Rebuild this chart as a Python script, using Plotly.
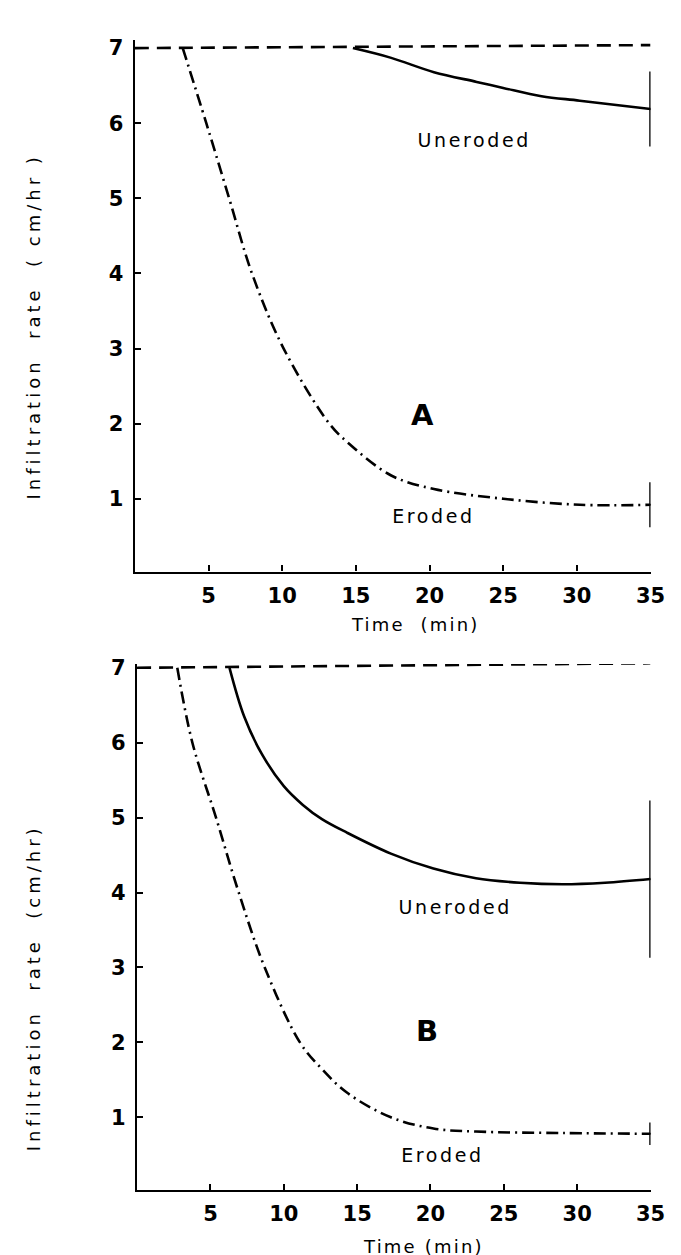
import plotly.graph_objects as go
from plotly.subplots import make_subplots

# ---------------- data ----------------
# Panel A
a_rain_x = [0, 35]
a_rain_y = [7.0, 7.04]
a_uner_x = [14.8, 17.4, 20.3, 23.2, 25.0, 27.6, 30.2, 35.0]
a_uner_y = [7.0, 6.87, 6.68, 6.55, 6.47, 6.36, 6.30, 6.19]
a_ero_x = [3.25, 4.85, 6.4, 7.95, 10.1, 13.2, 14.5, 17.4, 20.3, 25.0, 30.2, 35.0]
a_ero_y = [7.0, 6.0, 5.0, 4.0, 3.0, 2.0, 1.74, 1.31, 1.13, 1.0, 0.92, 0.92]
a_uner_err = 0.5
a_ero_err = 0.3

# Panel B
b_rain_x = [0, 35]
b_rain_y = [7.0, 7.06]
b_uner_x = [6.3, 7.3, 8.5, 10.0, 11.3, 12.6, 14.3, 17.3, 20.2, 23.1, 26.1, 29.0, 31.9, 35.0]
b_uner_y = [7.0, 6.35, 5.85, 5.42, 5.17, 4.98, 4.8, 4.52, 4.32, 4.19, 4.13, 4.11, 4.13, 4.18]
b_ero_x = [2.74, 3.77, 5.38, 6.93, 8.7, 11.1, 12.57, 14.3, 17.3, 20.2, 23.1, 29.0, 35.0]
b_ero_y = [7.0, 6.0, 5.0, 4.0, 3.0, 2.0, 1.65, 1.33, 1.0, 0.85, 0.81, 0.79, 0.78]
b_uner_err = 1.05
b_ero_err = 0.15

x_ticks = [5, 10, 15, 20, 25, 30, 35]
y_ticks = [1, 2, 3, 4, 5, 6, 7]

# ---------------- figure ----------------
W, H = 681, 1255
fig = make_subplots(rows=2, cols=1)

DASHDOT = "12px,5px,2px,5px"
DASHED = "14px,8px"
LW = 2.6
INK = "black"


def add_panel(row, rain_x, rain_y, ux, uy, ex, ey, uerr, eerr):
    fig.add_trace(go.Scatter(x=rain_x, y=rain_y, mode="lines",
                             line=dict(color=INK, width=LW, dash=DASHED),
                             showlegend=False), row=row, col=1)
    fig.add_trace(go.Scatter(x=ux, y=uy, mode="lines", line_shape="spline",
                             line=dict(color=INK, width=LW),
                             showlegend=False), row=row, col=1)
    fig.add_trace(go.Scatter(x=ex, y=ey, mode="lines", line_shape="spline",
                             line=dict(color=INK, width=LW, dash=DASHDOT),
                             showlegend=False), row=row, col=1)
    fig.add_trace(go.Scatter(x=[ux[-1], ex[-1]], y=[uy[-1], ey[-1]], mode="markers",
                             marker=dict(size=1, color=INK),
                             error_y=dict(type="data", array=[uerr, eerr], width=0,
                                          thickness=2.6, color=INK),
                             showlegend=False, cliponaxis=False), row=row, col=1)


add_panel(1, a_rain_x, a_rain_y, a_uner_x, a_uner_y, a_ero_x, a_ero_y, a_uner_err, a_ero_err)
add_panel(2, b_rain_x, b_rain_y, b_uner_x, b_uner_y, b_ero_x, b_ero_y, b_uner_err, b_ero_err)

FONT = "DejaVu Sans"
tickfont = dict(family=FONT, size=21, color=INK, weight="bold")

axis_common = dict(showgrid=False, zeroline=False, showline=True, linecolor=INK,
                   linewidth=2.4, ticks="inside", ticklen=6, tickwidth=2.4, tickcolor=INK,
                   tickfont=tickfont)

fig.update_xaxes(range=[0, 35], tickvals=x_ticks, ticklabelstandoff=4, **axis_common)
fig.update_yaxes(tickvals=y_ticks, ticklabelstandoff=5, **axis_common)

fig.update_layout(
    width=W, height=H,
    margin=dict(l=0, r=0, t=0, b=0),
    paper_bgcolor="white", plot_bgcolor="white",
    showlegend=False,
    xaxis=dict(domain=[129.7 / W, 657 / W], anchor="y"),
    yaxis=dict(domain=[1 - 559.2 / H, 1 - 24.0 / H], range=[0.03, 7.11]),
    xaxis2=dict(domain=[132 / W, 657 / W], anchor="y2"),
    yaxis2=dict(domain=[1 - 1181.5 / H, 1 - 652.2 / H], range=[0.03, 7.05]),
)

lab = dict(family=FONT, size=19, color=INK)
big = dict(family=FONT, size=29, color=INK, weight="bold")
rfont = dict(family=FONT, size=19, color=INK)
ann = [
    ("x", "y", 23.05, 5.77, "Uneroded", lab),
    ("x", "y", 20.26, 0.77, "Eroded", lab),
    ("x", "y", 19.55, 2.12, "A", big),
    ("x", "y", 35.3, 7.23, "R", rfont),
    ("x2", "y2", 21.7, 3.81, "Uneroded", lab),
    ("x2", "y2", 20.8, 0.5, "Eroded", lab),
    ("x2", "y2", 19.75, 2.15, "B", big),
    ("x2", "y2", 35.3, 7.29, "R", rfont),
]
for xr, yr, x, y, t, f in ann:
    fig.add_annotation(xref=xr, yref=yr, x=x, y=y, text=t, showarrow=False, font=f,
                       xanchor="center", yanchor="middle")

# axis titles placed where the original figure has them
title_font = dict(family=FONT, size=18, color=INK)
titles = [
    (26, 312, "Infiltration  rate  ( cm/hr )", -90),
    (26, 978, "Infiltration  rate  (cm/hr)", -90),
    (416, 612, "Time  (min)", 0),
    (425, 1238, "Time (min)", 0),
]
for px, py, t, ang in titles:
    fig.add_annotation(xref="paper", yref="paper", x=px / W, y=1 - py / H, text=t,
                       textangle=ang, showarrow=False, font=title_font,
                       xanchor="center", yanchor="middle")

post = """
document.querySelectorAll('.annotation-text').forEach(function(e){
  var t = e.textContent;
  if (t.indexOf('Infiltration') === 0) { e.style.letterSpacing = '4px'; }
  else if (t.indexOf('Time') === 0) { e.style.letterSpacing = '2.2px'; }
  else if (t.indexOf('roded') >= 0) { e.style.letterSpacing = '2.6px'; }
});
"""
fig.write_html("out.html", post_script=post)
